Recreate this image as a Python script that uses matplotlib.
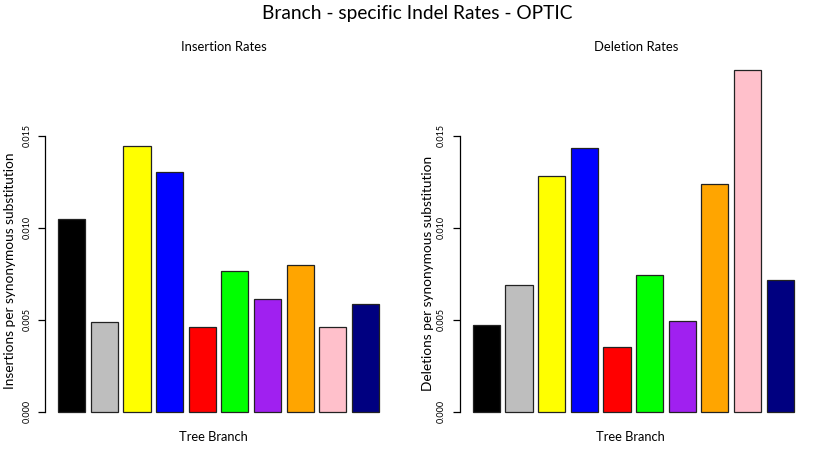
import matplotlib as mpl
mpl.use("Agg")
import matplotlib.pyplot as plt
import numpy as np

plt.rcParams['font.family'] = ['Lato', 'DejaVu Sans']

# branch colours (R colour names)
bar_colors = ["black", "#BEBEBE", "#FFFF00", "#0000FF", "#FF0000",
              "#00FF00", "#A020F0", "#FFA500", "#FFC0CB", "#000080"]
insertion_rates = [0.01048, 0.00486, 0.01442, 0.01301, 0.00463,
                   0.00765, 0.00613, 0.00798, 0.00461, 0.00584]
deletion_rates = [0.00471, 0.00689, 0.01283, 0.01433, 0.00352,
                  0.00741, 0.00491, 0.01237, 0.01857, 0.00717]
y_ticks = [0.000, 0.005, 0.010, 0.015]
y_ticklabels = ["0.000", "0.005", "0.010", "0.015"]

W, H = 830, 468
fig = plt.figure(figsize=(W / 100, H / 100), dpi=100)

# R barplot geometry: width 1, space 0.2
x = 0.7 + 1.2 * np.arange(len(bar_colors))
ymax = max(max(insertion_rates), max(deletion_rates))
ylim = (-0.04 * ymax, 1.04 * ymax)


def panel(left_px, values):
    ax = fig.add_axes([left_px / W, 1 - 425.4 / H, 346.7 / W, 369 / H])
    ax.bar(x, values, width=1.0, color=bar_colors, edgecolor="#222222", linewidth=0.9)
    ax.set_xlim(-0.272, 12.472)
    ax.set_ylim(*ylim)
    for s in ["top", "right", "bottom"]:
        ax.spines[s].set_visible(False)
    ax.spines["left"].set_bounds(0, 0.015)
    ax.spines["left"].set_linewidth(0.9)
    ax.set_xticks([])
    ax.set_yticks(y_ticks)
    ax.set_yticklabels(y_ticklabels, fontsize=6.5)
    ax.tick_params(axis="y", length=5, width=0.9, pad=5)
    for lbl in ax.get_yticklabels():
        lbl.set_rotation(90)
        lbl.set_va("center")
    return ax


panel(45.2, insertion_rates)
panel(459.9, deletion_rates)

fig.text(417 / W, 1 - 13 / H, "Branch - specific Indel Rates - OPTIC",
         ha="center", va="center", fontsize=13.8)
fig.text(224 / W, 1 - 47 / H, "Insertion Rates", ha="center", va="center", fontsize=9.4)
fig.text(636 / W, 1 - 47 / H, "Deletion Rates", ha="center", va="center", fontsize=9.4)
fig.text(213 / W, 1 - 437 / H, "Tree Branch", ha="center", va="center", fontsize=9.3)
fig.text(630 / W, 1 - 437 / H, "Tree Branch", ha="center", va="center", fontsize=9.3)
fig.text(10 / W, 1 - 271 / H, "Insertions per synonymous substitution",
         rotation=90, ha="center", va="center", fontsize=9.8)
fig.text(428 / W, 1 - 273 / H, "Deletions per synonymous substitution",
         rotation=90, ha="center", va="center", fontsize=9.8)

fig.savefig("out.png", dpi=100)
